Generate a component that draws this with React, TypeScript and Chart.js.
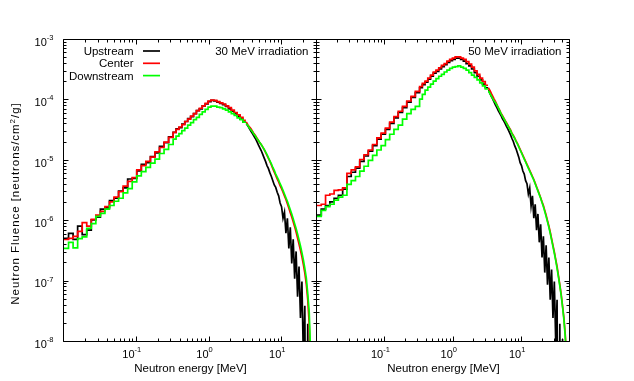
import React, { useEffect, useRef } from 'react';
import { Chart, registerables } from 'chart.js';

Chart.register(...registerables);

// ---------------- data ----------------
const SERIES_NAMES = ['Upstream', 'Center', 'Downstream'];
const SERIES_COLORS = ['#000000', '#ff0000', '#00ff00'];
const PANEL_TITLES = ['30 MeV irradiation', '50 MeV irradiation'];
const X_TITLE = 'Neutron energy [MeV]';
const Y_TITLE_PARTS = ['Neutron Fluence [neutrons/cm', '2', '/g]'];
const X_RANGE_30 = [0.01, 30];
const X_RANGE_50 = [0.01, 50];
const Y_RANGE = [1e-8, 1e-3];
const Y_TICK_EXPONENTS = [-8, -7, -6, -5, -4, -3];
const X_TICK_EXPONENTS = [-1, 0, 1];

// energy bin structure: [log10(Emin), log10(Emax), number of bins]
// (the last, fine-binned segment is drawn as a continuous line through bin centres)
const BINS_30 = [[-2, -0.5, 24], [-0.5, 0.5, 25], [0.5, 1.46, 48]];
const BINS_50 = [[-2, -0.5, 24], [-0.5, 0.5, 25], [0.5, 1.7, 60]];

// fluence per bin [neutrons/cm2/g], 30 MeV irradiation
const UPSTREAM_30 = [
  5.2e-7, 6.3e-7, 5.0e-7, 8.3e-7, 6.0e-7, 7.1e-7, 1.05e-6, 1.17e-6, 1.58e-6, 1.66e-6, 2.19e-6, 2.4e-6,
  3.16e-6, 3.55e-6, 5.0e-6, 5.1e-6, 6.8e-6, 8.7e-6, 9.3e-6, 1.17e-5, 1.35e-5, 1.74e-5, 2.0e-5, 2.5e-5,
  2.95e-5, 3.39e-5, 3.55e-5, 4.07e-5, 4.47e-5, 5.0e-5, 5.37e-5, 6.03e-5, 6.76e-5, 7.24e-5, 8.13e-5, 8.71e-5,
  9.55e-5, 1.0e-4, 9.77e-5, 9.33e-5, 8.91e-5, 8.51e-5, 7.94e-5, 7.24e-5, 6.61e-5, 6.03e-5, 5.5e-5, 4.9e-5, 4.37e-5,
  4.07e-5, 3.72e-5, 3.39e-5, 3.09e-5, 2.82e-5, 2.57e-5, 2.34e-5, 2.09e-5, 1.86e-5, 1.66e-5, 1.48e-5, 1.29e-5,
  1.12e-5, 9.77e-6, 8.32e-6, 7.41e-6, 6.31e-6, 5.5e-6, 4.68e-6, 3.98e-6, 3.63e-6, 3.02e-6, 2.63e-6, 2.0e-6,
  1.74e-6, 1.12e-6, 1.41e-6, 6.31e-7, 1.12e-6, 3.55e-7, 7.94e-7, 2.0e-7, 5.01e-7, 1.12e-7, 3.16e-7, 5.62e-8,
  1.78e-7, 2.51e-8, 1.0e-7, 5.01e-9, 3.98e-8, 1e-12, 2.0e-8, 1e-12,
];
const CENTER_30 = [
  5.0e-7, 5.2e-7, 5.6e-7, 6.8e-7, 9.5e-7, 8.3e-7, 1.07e-6, 1.26e-6, 1.45e-6, 1.74e-6, 2.09e-6, 2.51e-6,
  3.09e-6, 3.8e-6, 4.57e-6, 5.25e-6, 7.08e-6, 8.32e-6, 9.77e-6, 1.15e-5, 1.41e-5, 1.66e-5, 2.04e-5, 2.45e-5,
  2.95e-5, 3.31e-5, 3.63e-5, 3.98e-5, 4.47e-5, 4.9e-5, 5.5e-5, 6.03e-5, 6.76e-5, 7.41e-5, 8.13e-5, 8.91e-5,
  9.77e-5, 1.01e-4, 1.0e-4, 9.55e-5, 9.12e-5, 8.71e-5, 8.13e-5, 7.59e-5, 6.92e-5, 6.31e-5, 5.75e-5, 5.25e-5, 4.68e-5,
  4.27e-5, 3.89e-5, 3.63e-5, 3.39e-5, 3.09e-5, 2.82e-5, 2.63e-5, 2.4e-5, 2.19e-5, 2.0e-5, 1.86e-5, 1.7e-5,
  1.55e-5, 1.38e-5, 1.23e-5, 1.1e-5, 9.77e-6, 8.51e-6, 7.41e-6, 6.46e-6, 5.75e-6, 5.0e-6, 4.47e-6, 3.89e-6,
  3.47e-6, 3.02e-6, 2.63e-6, 2.29e-6, 1.95e-6, 1.66e-6, 1.38e-6, 1.17e-6, 9.77e-7, 8.13e-7, 6.61e-7, 5.25e-7,
  4.17e-7, 3.31e-7, 2.57e-7, 1.91e-7, 1.38e-7, 9.12e-8, 5.0e-8, 2.0e-8, 3.2e-9,
];
const DOWNSTREAM_30 = [
  3.55e-7, 4.47e-7, 3.63e-7, 5.13e-7, 5.5e-7, 7.59e-7, 9.12e-7, 1.2e-6, 1.35e-6, 1.58e-6, 1.82e-6, 2.14e-6,
  2.4e-6, 2.95e-6, 3.47e-6, 4.47e-6, 5.62e-6, 6.61e-6, 7.76e-6, 9.12e-6, 1.07e-5, 1.32e-5, 1.55e-5, 1.86e-5,
  2.29e-5, 2.57e-5, 2.82e-5, 3.16e-5, 3.47e-5, 3.89e-5, 4.27e-5, 4.79e-5, 5.25e-5, 5.89e-5, 6.46e-5, 7.08e-5,
  7.76e-5, 8.04e-5, 8.04e-5, 7.76e-5, 7.59e-5, 7.24e-5, 6.92e-5, 6.46e-5, 6.03e-5, 5.62e-5, 5.13e-5, 4.79e-5, 4.37e-5,
  4.07e-5, 3.8e-5, 3.47e-5, 3.24e-5, 3.02e-5, 2.75e-5, 2.57e-5, 2.34e-5, 2.19e-5, 2.0e-5, 1.86e-5, 1.7e-5,
  1.55e-5, 1.41e-5, 1.26e-5, 1.12e-5, 1.0e-5, 8.91e-6, 7.76e-6, 6.92e-6, 6.03e-6, 5.37e-6, 4.79e-6, 4.17e-6,
  3.72e-6, 3.24e-6, 2.82e-6, 2.45e-6, 2.14e-6, 1.82e-6, 1.55e-6, 1.32e-6, 1.1e-6, 9.12e-7, 7.59e-7, 6.17e-7,
  4.9e-7, 3.89e-7, 3.02e-7, 2.29e-7, 1.66e-7, 1.15e-7, 6.31e-8, 3.16e-8, 6.3e-9,
];

// fluence per bin [neutrons/cm2/g], 50 MeV irradiation
const UPSTREAM_50 = [
  1.26e-6, 1.58e-6, 1.82e-6, 2.09e-6, 2.4e-6, 2.69e-6, 3.39e-6, 5.5e-6, 6.46e-6, 7.59e-6, 9.77e-6, 1.2e-5,
  1.45e-5, 1.78e-5, 2.29e-5, 2.75e-5, 3.31e-5, 4.17e-5, 5.13e-5, 6.31e-5, 7.59e-5, 9.33e-5, 1.12e-4, 1.35e-4,
  1.62e-4, 1.82e-4, 2.0e-4, 2.24e-4, 2.51e-4, 2.82e-4, 3.02e-4, 3.31e-4, 3.63e-4, 3.89e-4, 4.27e-4, 4.57e-4,
  4.79e-4, 5.01e-4, 5.01e-4, 4.79e-4, 4.47e-4, 4.07e-4, 3.72e-4, 3.31e-4, 2.88e-4, 2.51e-4, 2.19e-4, 1.86e-4, 1.62e-4,
  1.45e-4, 1.29e-4, 1.15e-4, 1.05e-4, 9.33e-5, 8.32e-5, 7.59e-5, 6.76e-5, 6.17e-5, 5.62e-5, 5.01e-5, 4.57e-5,
  4.17e-5, 3.72e-5, 3.39e-5, 3.02e-5, 2.69e-5, 2.34e-5, 2.09e-5, 1.78e-5, 1.58e-5, 1.35e-5, 1.15e-5, 9.33e-6,
  8.32e-6, 6.76e-6, 6.03e-6, 4.68e-6, 4.17e-6, 2.82e-6, 3.55e-6, 1.78e-6, 2.63e-6, 1.12e-6, 1.91e-6, 7.08e-7,
  1.32e-6, 4.47e-7, 8.91e-7, 2.51e-7, 5.62e-7, 1.41e-7, 3.98e-7, 8.91e-8, 2.51e-7, 5.01e-8, 1.58e-7, 2.51e-8,
  1.0e-7, 1.0e-8, 5.01e-8, 1e-12, 2.0e-8, 1e-12, 1.12e-8, 1e-12,
];
const CENTER_50 = [
  1.82e-6, 1.91e-6, 2.69e-6, 2.82e-6, 3.24e-6, 3.31e-6, 3.55e-6, 6.17e-6, 7.08e-6, 7.94e-6, 1.05e-5, 1.26e-5,
  1.51e-5, 1.86e-5, 2.4e-5, 2.88e-5, 3.47e-5, 4.37e-5, 5.37e-5, 6.61e-5, 7.94e-5, 9.77e-5, 1.17e-4, 1.41e-4,
  1.7e-4, 1.91e-4, 2.09e-4, 2.34e-4, 2.63e-4, 2.95e-4, 3.16e-4, 3.47e-4, 3.8e-4, 4.07e-4, 4.47e-4, 4.79e-4,
  5.01e-4, 5.25e-4, 5.25e-4, 5.01e-4, 4.79e-4, 4.37e-4, 3.98e-4, 3.55e-4, 3.09e-4, 2.69e-4, 2.34e-4, 2.04e-4, 1.78e-4,
  1.58e-4, 1.45e-4, 1.29e-4, 1.17e-4, 1.05e-4, 9.55e-5, 8.51e-5, 7.59e-5, 6.92e-5, 6.17e-5, 5.62e-5, 5.13e-5,
  4.68e-5, 4.27e-5, 3.89e-5, 3.55e-5, 3.24e-5, 2.88e-5, 2.63e-5, 2.4e-5, 2.14e-5, 1.95e-5, 1.74e-5, 1.55e-5,
  1.38e-5, 1.23e-5, 1.1e-5, 9.77e-6, 8.71e-6, 7.76e-6, 6.92e-6, 6.17e-6, 5.5e-6, 4.9e-6, 4.27e-6, 3.72e-6,
  3.24e-6, 2.82e-6, 2.45e-6, 2.09e-6, 1.82e-6, 1.51e-6, 1.26e-6, 1.02e-6, 8.32e-7, 6.61e-7, 5.13e-7, 3.98e-7,
  3.09e-7, 2.34e-7, 1.78e-7, 1.26e-7, 8.91e-8, 6.17e-8, 3.98e-8, 2.51e-8, 1.32e-8, 5.0e-9,
];
const DOWNSTREAM_50 = [
  1.2e-6, 1.51e-6, 1.74e-6, 1.91e-6, 2.24e-6, 2.51e-6, 2.69e-6, 4.07e-6, 4.68e-6, 5.5e-6, 6.76e-6, 8.13e-6,
  1.02e-5, 1.23e-5, 1.51e-5, 1.78e-5, 2.24e-5, 2.75e-5, 3.31e-5, 3.89e-5, 4.9e-5, 6.03e-5, 7.08e-5, 7.94e-5,
  1.05e-4, 1.26e-4, 1.48e-4, 1.66e-4, 1.86e-4, 2.09e-4, 2.29e-4, 2.51e-4, 2.69e-4, 2.95e-4, 3.16e-4, 3.39e-4,
  3.55e-4, 3.63e-4, 3.72e-4, 3.55e-4, 3.39e-4, 3.16e-4, 2.88e-4, 2.63e-4, 2.4e-4, 2.19e-4, 1.95e-4, 1.74e-4, 1.55e-4,
  1.41e-4, 1.29e-4, 1.17e-4, 1.07e-4, 9.77e-5, 9.12e-5, 8.32e-5, 7.59e-5, 6.76e-5, 6.03e-5, 5.5e-5, 5.01e-5,
  4.57e-5, 4.17e-5, 3.8e-5, 3.47e-5, 3.16e-5, 2.82e-5, 2.57e-5, 2.34e-5, 2.09e-5, 1.91e-5, 1.7e-5, 1.51e-5,
  1.35e-5, 1.2e-5, 1.07e-5, 9.55e-6, 8.51e-6, 7.59e-6, 6.76e-6, 6.03e-6, 5.37e-6, 4.79e-6, 4.17e-6, 3.63e-6,
  3.16e-6, 2.75e-6, 2.4e-6, 2.04e-6, 1.74e-6, 1.45e-6, 1.2e-6, 9.77e-7, 7.94e-7, 6.31e-7, 4.9e-7, 3.8e-7,
  2.95e-7, 2.24e-7, 1.66e-7, 1.2e-7, 8.51e-8, 5.89e-8, 3.8e-8, 2.34e-8, 1.2e-8, 4.5e-9,
];

// ---------------- layout / style ----------------
const W = 634;
const H = 381;
const FONT = '"Liberation Sans", Arial, Helvetica, sans-serif';
const PLOT_TOP = 40;
const PLOT_BOTTOM = 342;
const LINE_W = 1.7;

type Panel = {
  bins: number[][];
  series: number[][];
  xRange: number[];
  title: string;
  left: number;
  right: number;
  yLabels: boolean;
  legend: boolean;
};

const PANELS: Panel[] = [
  { bins: BINS_30, series: [UPSTREAM_30, CENTER_30, DOWNSTREAM_30], xRange: X_RANGE_30, title: PANEL_TITLES[0], left: 64, right: 317, yLabels: true, legend: true },
  { bins: BINS_50, series: [UPSTREAM_50, CENTER_50, DOWNSTREAM_50], xRange: X_RANGE_50, title: PANEL_TITLES[1], left: 317, right: 570, yLabels: false, legend: false },
];

function binEdges(segments: number[][]) {
  const edges: number[] = [];
  segments.forEach(([a, b, n], s) => {
    for (let k = s === 0 ? 0 : 1; k <= n; k++) edges.push(Math.pow(10, a + ((b - a) * k) / n));
  });
  return edges;
}

// coarse bins: histogram steps (point at each left edge, closing point at last right edge)
function stepPoints(edges: number[], values: number[], n: number) {
  const pts = values.slice(0, n).map((v, i) => ({ x: edges[i], y: v }));
  pts.push({ x: edges[n], y: values[n - 1] });
  return pts;
}

// fine bins: continuous line through bin centres
function finePoints(edges: number[], values: number[], n: number) {
  const pts = [{ x: edges[n], y: values[n] }];
  for (let i = n; i < values.length; i++) pts.push({ x: Math.sqrt(edges[i] * edges[i + 1]), y: values[i] });
  return pts;
}

function powLabel(ctx: CanvasRenderingContext2D, exp: string, x: number, baseline: number, align: 'right' | 'center') {
  const baseFont = `11px ${FONT}`;
  const supFont = `7.5px ${FONT}`;
  ctx.font = baseFont;
  const wb = ctx.measureText('10').width;
  ctx.font = supFont;
  const we = ctx.measureText(exp).width;
  const total = wb + we;
  const x0 = align === 'right' ? x - total : x - total / 2;
  ctx.textAlign = 'left';
  ctx.textBaseline = 'alphabetic';
  ctx.font = baseFont;
  ctx.fillText('10', x0, baseline);
  ctx.font = supFont;
  ctx.fillText(exp, x0 + wb, baseline - 5.8);
}

function spacedText(
  ctx: CanvasRenderingContext2D,
  parts: { t: string; font: string; dy: number }[],
  cx: number,
  baseline: number,
  spacing: number
) {
  let total = 0;
  parts.forEach((p) => {
    ctx.font = p.font;
    for (const ch of p.t) total += ctx.measureText(ch).width + spacing;
  });
  total -= spacing;
  let x = cx - total / 2;
  ctx.textAlign = 'left';
  ctx.textBaseline = 'alphabetic';
  parts.forEach((p) => {
    ctx.font = p.font;
    for (const ch of p.t) {
      ctx.fillText(ch, x, baseline + p.dy);
      x += ctx.measureText(ch).width + spacing;
    }
  });
}

function framePlugin(panel: Panel) {
  return {
    id: 'gnuplotFrame',
    afterDatasetsDraw(chart: any) {
      const { ctx, chartArea: a } = chart;
      const xs = chart.scales.x;
      const ys = chart.scales.y;
      const L = a.left - 0.5;
      const R = a.right - 0.5;
      const T = a.top - 0.5;
      const B = a.bottom - 0.5;
      ctx.save();
      ctx.strokeStyle = '#000';
      ctx.fillStyle = '#000';
      ctx.lineWidth = 1;
      ctx.beginPath();
      ctx.rect(L, T, R - L, B - T);
      for (let k = -8; k <= -3; k++) {
        for (let m = 1; m <= 9; m++) {
          const v = m * Math.pow(10, k);
          if (v > ys.max * 1.0001) continue;
          const p = Math.round(ys.getPixelForValue(v)) - 0.5;
          const len = m === 1 ? 5 : 3;
          ctx.moveTo(L, p); ctx.lineTo(L + len, p);
          ctx.moveTo(R, p); ctx.lineTo(R - len, p);
        }
      }
      for (let k = -2; k <= 1; k++) {
        for (let m = 1; m <= 9; m++) {
          const v = m * Math.pow(10, k);
          if (v < xs.min * 0.9999 || v > xs.max * 1.0001) continue;
          const p = Math.round(xs.getPixelForValue(v)) - 0.5;
          const len = m === 1 ? 5 : 3;
          ctx.moveTo(p, B); ctx.lineTo(p, B - len);
          ctx.moveTo(p, T); ctx.lineTo(p, T + len);
        }
      }
      ctx.stroke();

      if (panel.yLabels) {
        Y_TICK_EXPONENTS.forEach((e) => {
          const p = ys.getPixelForValue(Math.pow(10, e));
          powLabel(ctx, String(e), 53.5, p + 5.8, 'right');
        });
        ctx.save();
        ctx.translate(19, 204);
        ctx.rotate(-Math.PI / 2);
        spacedText(
          ctx,
          [
            { t: Y_TITLE_PARTS[0], font: `11.5px ${FONT}`, dy: 0 },
            { t: Y_TITLE_PARTS[1], font: `8px ${FONT}`, dy: -4.5 },
            { t: Y_TITLE_PARTS[2], font: `11.5px ${FONT}`, dy: 0 },
          ],
          0,
          0,
          0.95
        );
        ctx.restore();
      }
      X_TICK_EXPONENTS.forEach((e) => {
        const p = xs.getPixelForValue(Math.pow(10, e));
        powLabel(ctx, String(e), p - 5, 357.5, 'center');
      });
      ctx.font = `11.5px ${FONT}`;
      ctx.textAlign = 'center';
      ctx.textBaseline = 'alphabetic';
      ctx.fillText(X_TITLE, (a.left + a.right) / 2, 371.5);

      ctx.textAlign = 'right';
      ctx.fillText(panel.title, a.right - 8.5, 55);

      if (panel.legend) {
        SERIES_NAMES.forEach((name, i) => {
          const base = 55 + i * 12.3;
          ctx.fillStyle = '#000';
          ctx.textAlign = 'right';
          ctx.font = `11.5px ${FONT}`;
          ctx.fillText(name, 133.5, base);
          ctx.strokeStyle = SERIES_COLORS[i];
          ctx.lineWidth = LINE_W;
          ctx.beginPath();
          ctx.moveTo(143, base - 4);
          ctx.lineTo(160, base - 4);
          ctx.stroke();
        });
      }
      ctx.restore();
    },
  };
}

function makeChart(canvas: HTMLCanvasElement, panel: Panel) {
  const edges = binEdges(panel.bins);
  const coarse = panel.bins[0][2] + panel.bins[1][2];
  const datasets: any[] = [];
  panel.series.forEach((values, i) => {
    const common = {
      label: SERIES_NAMES[i],
      borderColor: SERIES_COLORS[i],
      backgroundColor: SERIES_COLORS[i],
      borderWidth: LINE_W,
      pointRadius: 0,
      fill: false,
      clip: 0,
      order: 3 - i,
    };
    datasets.push({ ...common, data: stepPoints(edges, values, coarse), stepped: true });
    datasets.push({ ...common, data: finePoints(edges, values, coarse), stepped: false, tension: 0 });
  });
  return new Chart(canvas, {
    type: 'line',
    data: { datasets },
    options: {
      animation: false,
      responsive: false,
      devicePixelRatio: 1,
      events: [],
      layout: {
        autoPadding: false,
        padding: { left: panel.left, right: W - panel.right, top: PLOT_TOP, bottom: H - PLOT_BOTTOM },
      },
      plugins: { legend: { display: false }, tooltip: { enabled: false }, title: { display: false } },
      scales: {
        x: { type: 'logarithmic', min: panel.xRange[0], max: panel.xRange[1], display: false },
        y: { type: 'logarithmic', min: Y_RANGE[0], max: Y_RANGE[1], display: false },
      },
    },
    plugins: [framePlugin(panel)],
  } as any);
}

export default function App() {
  const leftRef = useRef<HTMLCanvasElement>(null);
  const rightRef = useRef<HTMLCanvasElement>(null);
  useEffect(() => {
    const charts = [makeChart(leftRef.current!, PANELS[0]), makeChart(rightRef.current!, PANELS[1])];
    return () => charts.forEach((c) => c.destroy());
  }, []);
  return (
    <div style={{ position: 'absolute', left: 0, top: 0, width: W, height: H, background: '#fff' }}>
      <canvas ref={leftRef} width={W} height={H} style={{ position: 'absolute', left: 0, top: 0 }} />
      <canvas ref={rightRef} width={W} height={H} style={{ position: 'absolute', left: 0, top: 0 }} />
    </div>
  );
}
